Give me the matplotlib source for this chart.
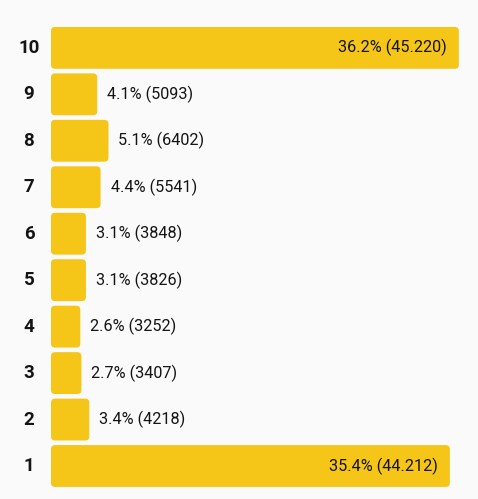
import matplotlib
matplotlib.use("Agg")
import matplotlib.pyplot as plt
from matplotlib.patches import FancyBboxPatch
from matplotlib import transforms

categories = [10, 9, 8, 7, 6, 5, 4, 3, 2, 1]
percents = [36.2, 4.1, 5.1, 4.4, 3.1, 3.1, 2.6, 2.7, 3.4, 35.4]
counts = ["45.220", "5093", "6402", "5541", "3848", "3826", "3252", "3407", "4218", "44.212"]

bar_color = "#F5C518"
bg = "#FAFAFA"
text_color = "#141414"

plt.rcParams['font.family'] = ['Roboto', 'DejaVu Sans']

fig = plt.figure(figsize=(4.78, 4.99), dpi=100, facecolor=bg)
ax = fig.add_axes([51 / 478, 0, 1 - 51 / 478, 1])
ax.set_facecolor(bg)
ax.set_xlim(0, 37.9)
ax.set_ylim(0.29, 11.03)
ax.axis("off")

# rounding correction for unequal data scales
px_x = (427 / 37.9)
px_y = 499 / (11.03 - 0.29)
r = 4 / px_x
aspect = px_x / px_y
bar_h = 0.9

label_tr = transforms.blended_transform_factory(fig.transFigure, ax.transData)

for cat, pct, cnt in zip(categories, percents, counts):
    box = FancyBboxPatch((0, cat - bar_h / 2), pct, bar_h,
                         boxstyle=f"round,pad=0,rounding_size={r}",
                         mutation_aspect=aspect,
                         facecolor=bar_color, edgecolor="none")
    ax.add_patch(box)
    lbl = f"{pct}% ({cnt})"
    if pct > 20:
        ax.annotate(lbl, (pct, cat), xytext=(-8.5, 0), textcoords="offset points",
                    ha="right", va="center", fontsize=11.7, color=text_color)
    else:
        ax.annotate(lbl, (pct, cat), xytext=(7.2, 0), textcoords="offset points",
                    ha="left", va="center", fontsize=11.7, color=text_color)
    ax.text(29 / 478, cat, str(cat), transform=label_tr, ha="center", va="center",
            fontsize=13.5, fontweight="bold", color=text_color)

fig.savefig("out.png", dpi=100, facecolor=bg)
